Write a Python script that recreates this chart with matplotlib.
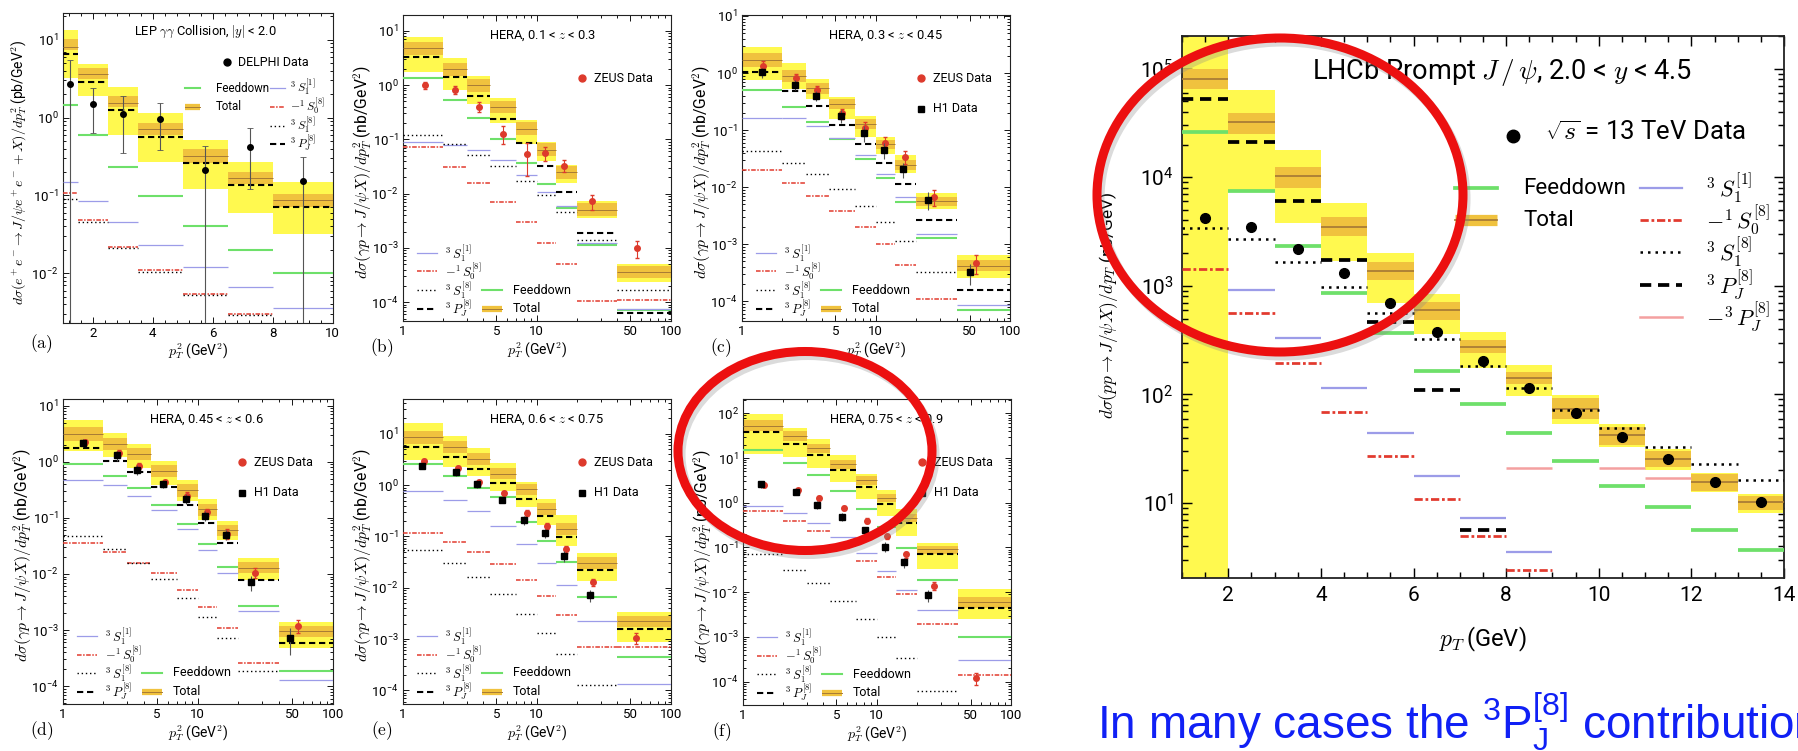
import matplotlib.pyplot as plt
from matplotlib.patches import Ellipse
from matplotlib.lines import Line2D
from matplotlib.ticker import FixedLocator, FuncFormatter, MultipleLocator, LogLocator, NullFormatter
import numpy as np

plt.rcParams['font.family'] = ['Roboto', 'DejaVu Sans']
plt.rcParams['mathtext.fontset'] = 'cm'

W, H = 1798, 751
nan = np.nan

YELLOW = '#FFF94F'
ORANGE = '#F0C23E'
TOTLINE = '#A77B35'
GREEN = '#6EE06A'
BLUE = '#9C9CE8'
RED = '#E23A2E'
PINK = '#F4A0A0'
ZEUS_RED = '#DD3A2C'

# ---------------- (a) LEP gamma-gamma ----------------
a_edges = [1, 1.5, 2.5, 3.5, 5, 6.5, 8, 10]
a_yel_hi = [13.5, 4.8, 2.5, 1.15, 0.52, 0.27, 0.147]
a_yel_lo = [3.2, 1.87, 0.6, 0.265, 0.12, 0.06, 0.032]
a_org_hi = [10.2, 4.35, 1.87, 0.84, 0.39, 0.20, 0.105]
a_org_lo = [7.3, 3.1, 1.37, 0.60, 0.26, 0.142, 0.070]
a_tot = [8.1, 3.6, 1.55, 0.72, 0.32, 0.165, 0.087]
a_pwave = [6.6, 2.9, 1.26, 0.57, 0.26, 0.138, 0.072]
a_feed = [1.47, 0.60, 0.235, 0.097, 0.041, 0.020, 0.0100]
a_s1sing = [0.15, 0.084, 0.045, 0.023, 0.012, 0.0066, 0.0036]
a_s0oct = [0.107, 0.048, 0.022, 0.011, 0.0054, 0.0030, nan]
a_s1oct = [0.091, 0.046, 0.021, 0.0105, 0.0052, 0.0029, nan]
a_data_x = [1.25, 2.0, 3.0, 4.25, 5.75, 7.25, 9.0]
a_data_y = [2.7, 1.5, 1.1, 0.97, 0.21, 0.42, 0.155]
a_data_hi = [5.5, 2.4, 1.87, 1.55, 0.43, 0.74, 0.31]
a_data_lo = [1e-4, 0.64, 0.35, 0.38, 1e-4, 0.122, 1e-4]

# ---------------- HERA panels (b)-(f) ----------------
hera_edges = [1, 2, 3, 4.5, 7, 10, 14, 20, 40, 100]

b_yel_hi = [7.8, 3.1, 1.47, 0.58, 0.225, 0.090, 0.034, 0.0072, 5.1e-4]
b_yel_lo = [1.76, 0.83, 0.44, 0.20, 0.081, 0.040, 0.0158, 0.0035, 2.35e-4]
b_org_hi = [6.3, 2.6, 1.3, 0.52, 0.205, 0.085, 0.032, 0.0066, 4.6e-4]
b_org_lo = [3.6, 1.5, 0.76, 0.30, 0.12, 0.049, 0.019, 0.0039, 2.8e-4]
b_tot = [4.8, 2.0, 1.0, 0.40, 0.158, 0.065, 0.025, 0.0051, 3.6e-4]
b_pwave = [3.3, 1.42, 0.63, 0.24, 0.087, 0.032, 0.0107, 0.00188, 6.3e-5]
b_feed = [1.33, 0.54, 0.25, 0.10, 0.037, 0.0153, 0.0055, 0.00115, 7.3e-5]
b_s1sing = [0.09, 0.078, 0.063, 0.041, 0.022, 0.0107, 0.0058, 0.00122, 7.6e-5]
b_s1oct = [0.12, 0.081, 0.052, 0.032, 0.017, 0.0093, 0.0046, 0.00141, 1.65e-4]
b_s0oct = [0.071, 0.031, 0.016, 0.0070, 0.0030, 0.00125, 5.1e-4, 1.07e-4, 1.11e-4]
b_zeus_x = [1.47, 2.46, 3.7, 5.65, 8.4, 11.6, 16.1, 26, 56]
b_zeus_y = [1.0, 0.83, 0.40, 0.128, 0.053, 0.056, 0.033, 0.0072, 1.0e-3]
b_zeus_err = [0.15, 0.18, 0.2, 0.35, 0.6, 0.3, 0.25, 0.3, 0.35]

c_yel_hi = [2.9, 1.48, 0.79, 0.38, 0.177, 0.076, 0.036, 0.0078, 6.5e-4]
c_yel_lo = [0.75, 0.52, 0.35, 0.155, 0.076, 0.038, 0.0174, 0.0041, 2.6e-4]
c_org_hi = [2.2, 1.15, 0.68, 0.35, 0.155, 0.068, 0.030, 0.0068, 5.2e-4]
c_org_lo = [1.3, 0.70, 0.43, 0.23, 0.105, 0.047, 0.020, 0.0047, 3.4e-4]
c_tot = [1.7, 0.89, 0.54, 0.29, 0.128, 0.057, 0.0245, 0.0057, 4.2e-4]
c_pwave = [1.05, 0.49, 0.26, 0.123, 0.056, 0.026, 0.0113, 0.0026, 1.6e-4]
c_feed = [0.50, 0.25, 0.14, 0.069, 0.031, 0.0142, 0.0055, 0.00126, 7.0e-5]
c_s1sing = [0.16, 0.16, 0.118, 0.072, 0.036, 0.017, 0.0068, 0.0015, 8.5e-5]
c_s1oct = [0.043, 0.026, 0.017, 0.0092, 0.0047, 0.0024, 0.00114, 3.2e-4, nan]
c_s0oct = [0.020, 0.0116, 0.0069, 0.0038, 0.0020, 0.0010, 4.4e-4, 1.1e-4, nan]
c_h1_x = [1.41, 2.5, 3.57, 5.5, 8.1, 11.5, 16, 24.5, 50]
c_h1_y = [1.03, 0.62, 0.40, 0.177, 0.089, 0.045, 0.0205, 0.0060, 3.2e-4]
c_h1_err = [0.2, 0.2, 0.2, 0.25, 0.3, 0.3, 0.3, 0.35, 0.4]
c_zeus_x = [1.45, 2.55, 3.65, 5.6, 8.3, 11.8, 16.4, 27, 56]
c_zeus_y = [1.33, 0.81, 0.50, 0.196, 0.11, 0.060, 0.034, 0.0068, 4.7e-4]
c_zeus_err = [0.2, 0.2, 0.2, 0.2, 0.25, 0.25, 0.25, 0.3, 0.35]

d_yel_hi = [5.5, 3.3, 2.04, 1.03, 0.48, 0.22, 0.089, 0.0195, 0.00139]
d_yel_lo = [1.57, 1.2, 0.79, 0.38, 0.20, 0.091, 0.040, 0.0077, 4.7e-4]
d_org_hi = [4.2, 2.7, 1.75, 0.88, 0.40, 0.18, 0.075, 0.0165, 1.2e-3]
d_org_lo = [2.4, 1.6, 1.06, 0.53, 0.24, 0.11, 0.047, 0.0102, 7.5e-4]
d_tot = [3.2, 2.1, 1.37, 0.69, 0.31, 0.142, 0.060, 0.0130, 9.6e-4]
d_pwave = [1.73, 1.04, 0.66, 0.35, 0.17, 0.081, 0.035, 0.0079, 5.9e-4]
d_feed = [0.91, 0.56, 0.34, 0.17, 0.077, 0.034, 0.0133, 0.0027, 1.87e-4]
d_s1sing = [0.48, 0.38, 0.25, 0.137, 0.063, 0.027, 0.0104, 0.0022, 1.3e-4]
d_s1oct = [0.047, 0.0275, 0.016, 0.0083, 0.0038, 0.0017, 7.3e-4, 1.85e-4, nan]
d_s0oct = [0.035, 0.025, 0.016, 0.0102, 0.0051, 0.0026, 0.0011, 2.6e-4, nan]
d_h1_x = [1.42, 2.52, 3.58, 5.5, 8.15, 11.4, 16.1, 24.7, 48]
d_h1_y = [2.2, 1.3, 0.72, 0.40, 0.22, 0.11, 0.050, 0.0072, 7.2e-4]
d_h1_err = [0.15, 0.2, 0.2, 0.15, 0.2, 0.2, 0.2, 0.3, 0.5]
d_zeus_x = [1.46, 2.6, 3.7, 5.7, 8.4, 11.8, 16.6, 26.5, 55]
d_zeus_y = [2.25, 1.45, 0.85, 0.43, 0.25, 0.125, 0.052, 0.0105, 1.2e-3]
d_zeus_err = [0.1, 0.12, 0.12, 0.12, 0.15, 0.15, 0.2, 0.2, 0.25]

e_yel_hi = [16.5, 9.3, 5.3, 2.7, 1.18, 0.53, 0.26, 0.048, 0.0033]
e_yel_lo = [3.1, 2.3, 1.48, 0.77, 0.38, 0.167, 0.065, 0.0138, 8.9e-4]
e_org_hi = [11.5, 7.2, 4.3, 2.2, 1.05, 0.44, 0.18, 0.039, 0.0028]
e_org_lo = [6.4, 4.2, 2.5, 1.3, 0.64, 0.26, 0.105, 0.023, 0.0017]
e_tot = [8.6, 5.5, 3.3, 1.69, 0.83, 0.34, 0.137, 0.030, 0.0022]
e_pwave = [5.5, 3.5, 2.1, 1.09, 0.53, 0.25, 0.098, 0.0225, 0.0016]
e_feed = [2.6, 1.52, 0.90, 0.60, 0.19, 0.083, 0.032, 0.0066, 4.4e-4]
e_s1sing = [0.77, 0.52, 0.31, 0.16, 0.070, 0.030, 0.0115, 0.0022, 1.35e-4]
e_s0oct = [0.115, 0.079, 0.050, 0.029, 0.0144, 0.0069, 0.0030, 6.9e-4, 7.1e-4]
e_s1oct = [0.054, 0.030, 0.0162, 0.0075, 0.0031, 0.00133, 5.2e-4, 1.26e-4, nan]
e_h1_x = [1.40, 2.5, 3.59, 5.5, 8.1, 11.5, 16, 25, nan]
e_h1_y = [2.4, 1.77, 1.05, 0.52, 0.21, 0.115, 0.042, 0.0071, nan]
e_h1_err = [0.15, 0.15, 0.15, 0.15, 0.2, 0.2, 0.25, 0.25, nan]
e_zeus_x = [1.45, 2.6, 3.7, 5.7, 8.4, 12, 16.6, 26.5, 55]
e_zeus_y = [2.9, 2.15, 1.13, 0.70, 0.29, 0.16, 0.056, 0.0127, 1.07e-3]
e_zeus_err = [0.1, 0.1, 0.1, 0.1, 0.12, 0.12, 0.15, 0.15, 0.25]

f_yel_hi = [97, 47, 26, 11.4, 4.3, 1.9, 0.71, 0.128, 0.012]
f_yel_lo = [12.6, 10.6, 6.0, 2.9, 1.23, 0.50, 0.18, 0.033, 0.0025]
f_org_hi = [70, 40, 21, 9.0, 3.9, 1.6, 0.57, 0.11, 0.0078]
f_org_lo = [40, 24, 13, 5.7, 2.5, 1.02, 0.37, 0.073, 0.0045]
f_tot = [53, 31, 17, 7.2, 3.15, 1.29, 0.46, 0.091, 0.006]
f_pwave = [38, 21, 11.4, 5.4, 2.24, 0.95, 0.345, 0.070, 0.0045]
f_feed = [15.5, 7.8, 4.1, 1.82, 0.71, 0.28, 0.099, 0.0185, 0.001]
f_s1sing = [0.84, 0.58, 0.36, 0.174, 0.074, 0.030, 0.011, 0.0040, 3.0e-4]
f_s0oct = [0.67, 0.39, 0.233, 0.108, 0.050, 0.022, 0.0091, 0.0019, 1.4e-4]
f_s1oct = [0.071, 0.032, 0.016, 0.0064, 0.0025, 9.8e-4, 3.3e-4, 6.3e-5, nan]
f_h1_x = [1.38, 2.5, 3.57, 5.5, 8.1, 11.5, 16, 24, nan]
f_h1_y = [2.56, 1.76, 0.90, 0.48, 0.24, 0.104, 0.047, 0.0085, nan]
f_h1_err = [0.15, 0.15, 0.2, 0.2, 0.2, 0.25, 0.25, 0.3, nan]
f_zeus_x = [1.45, 2.6, 3.7, 5.7, 8.4, 12, 16.6, 26.5, 55]
f_zeus_y = [2.5, 1.88, 1.27, 0.76, 0.40, 0.18, 0.070, 0.014, 1.2e-4]
f_zeus_err = [0.1, 0.1, 0.1, 0.1, 0.12, 0.12, 0.15, 0.2, 0.3]

# ---------------- LHCb prompt J/psi ----------------
r_edges = list(range(1, 15))
r_yel_hi = [1e6, 6.3e4, 1.78e4, 5.8e3, 2.0e3, 850, 375, 187, 98, 53, 31.6, 19, 12]
r_yel_lo = [0.1, 7.3e3, 3.8e3, 1.7e3, 700, 360, 175, 97, 54, 32.5, 20, 12.6, 8.1]
r_org_hi = [1.0e5, 3.9e4, 1.24e4, 4.3e3, 1.66e3, 706, 316, 162, 93, 50, 30, 18.6, 11.5]
r_org_lo = [6.5e4, 2.5e4, 8.0e3, 2.9e3, 1.13e3, 490, 240, 125, 59, 34.5, 21.3, 12.9, 8.7]
r_tot = [8.1e4, 3.2e4, 1.02e4, 3.5e3, 1.38e3, 600, 275, 141, 73, 42.6, 25.7, 15.5, 10.2]
r_pwave = [5.3e4, 2.1e4, 6.0e3, 1.73e3, 465, 110, 5.6, nan, nan, nan, nan, nan, nan]
r_feed = [2.6e4, 7.4e3, 2.33e3, 860, 365, 166, 81, 44.6, 24.5, 14.5, 9.1, 5.6, 3.7]
r_s1oct = [3.4e3, 2.7e3, 1.65e3, 970, 560, 325, 183, 114, 72, 49, 33, 22.8, 16.3]
r_s1sing = [nan, 910, 330, 115, 44, 17.8, 7.3, 3.55, nan, nan, nan, nan, nan]
r_s0oct = [1.42e3, 560, 195, 69, 27, 11, 5.0, 2.4, nan, nan, nan, nan, nan]
r_pneg = [nan, nan, nan, nan, nan, nan, nan, 21, nan, 21, 17, nan, nan]
r_data_x = [1.5, 2.5, 3.5, 4.5, 5.5, 6.5, 7.5, 8.5, 9.5, 10.5, 11.5, 12.5, 13.5]
r_data_y = [4.2e3, 3.5e3, 2.2e3, 1.3e3, 690, 375, 204, 114, 68, 40.5, 25.7, 15.5, 10.2]

S1_1 = r'$^{3}\,S_1^{[1]}$'
S0_8 = r'$-^{1}\,S_0^{[8]}$'
S1_8 = r'$^{3}\,S_1^{[8]}$'
PJ_8 = r'$^{3}\,P_J^{[8]}$'
PJ_neg = r'$-^{3}\,P_J^{[8]}$'

fig = plt.figure(figsize=(W / 100, H / 100), dpi=100)


def fx(x):
    return x / W


def fy(y):
    return 1 - y / H


def new_axes(l, t, r, b):
    return fig.add_axes([fx(l), fy(b), (r - l) / W, (b - t) / H])


def ftext(x, y, s, **kw):
    fig.text(fx(x), fy(y), s, **kw)


def styles(scale):
    return {
        'feed': dict(color=GREEN, lw=1.5 * scale, linestyles='solid'),
        's1sing': dict(color=BLUE, lw=0.9 * scale, linestyles='solid'),
        's0oct': dict(color=RED, lw=1.1 * scale, linestyles=[(0, (3, 1, 1, 1))]),
        's1oct': dict(color='black', lw=1.0 * scale, linestyles=[(0, (1, 2))]),
        'pwave': dict(color='black', lw=1.5 * scale, linestyles=[(0, (3, 1.8))]),
        'pneg': dict(color=PINK, lw=1.0 * scale, linestyles='solid'),
    }


def steps(ax, vals, edges, **kw):
    v = np.array(vals, float)
    e = np.array(edges, float)
    ok = np.isfinite(v)
    ax.hlines(v[ok], e[:-1][ok], e[1:][ok], **kw)


def draw_theory(ax, edges, yel_lo, yel_hi, org_lo, org_hi, tot, pwave, feed,
                s1sing, s0oct, s1oct, pneg=None, scale=1.0):
    e = np.array(edges, float)
    left, width = e[:-1], np.diff(e)
    ax.bar(left, np.array(yel_hi) - np.array(yel_lo), width, bottom=yel_lo,
           align='edge', color=YELLOW, lw=0, zorder=1)
    ax.bar(left, np.array(org_hi) - np.array(org_lo), width, bottom=org_lo,
           align='edge', color=ORANGE, lw=0, zorder=2)
    steps(ax, tot, e, color=TOTLINE, lw=0.7 * scale, zorder=3)
    st = styles(scale)
    steps(ax, feed, e, zorder=4, **st['feed'])
    steps(ax, s1sing, e, zorder=4, **st['s1sing'])
    steps(ax, s0oct, e, zorder=4, **st['s0oct'])
    steps(ax, s1oct, e, zorder=4, **st['s1oct'])
    steps(ax, pwave, e, zorder=4, **st['pwave'])
    if pneg is not None:
        steps(ax, pneg, e, zorder=4, **st['pneg'])


def draw_points(ax, x, y, err, kind):
    x, y, err = np.array(x, float), np.array(y, float), np.array(err, float)
    ok = np.isfinite(y)
    if kind == 'zeus':
        ax.errorbar(x[ok], y[ok], yerr=y[ok] * err[ok], fmt='o', ms=4, color=ZEUS_RED,
                    mec=ZEUS_RED, ecolor=ZEUS_RED, elinewidth=0.8, capsize=1.5, zorder=6)
    else:
        ax.errorbar(x[ok], y[ok], yerr=y[ok] * err[ok], fmt='s', ms=4, color='black',
                    ecolor='#555555', elinewidth=0.8, capsize=0, zorder=7)


def log_label(v, pos):
    return r'$\mathregular{10^{%d}}$' % int(round(np.log10(v)))


def style_axes(ax, ylim, size=9.5, big=False):
    ax.set_yscale('log')
    ax.set_ylim(*ylim)
    ax.yaxis.set_major_locator(LogLocator(base=10, numticks=30))
    ax.yaxis.set_major_formatter(FuncFormatter(log_label))
    ax.yaxis.set_minor_locator(LogLocator(base=10, subs=np.arange(2, 10) * 1.0, numticks=100))
    ax.yaxis.set_minor_formatter(NullFormatter())
    lw = 1.3 if big else 0.8
    ax.tick_params(which='both', direction='in', top=True, right=True, width=lw * 0.8,
                   labelsize=size, pad=3 if not big else 6)
    ax.tick_params(which='major', length=7 if big else 4)
    ax.tick_params(which='minor', length=4 if big else 2)
    for sp in ax.spines.values():
        sp.set_linewidth(lw)
        sp.set_color('#222222')


def style_hera_x(ax):
    ax.set_xscale('log')
    ax.set_xlim(1, 100)
    ax.xaxis.set_major_locator(FixedLocator([1, 5, 10, 50, 100]))
    ax.xaxis.set_major_formatter(FuncFormatter(lambda v, p: f'{v:g}'))
    ax.xaxis.set_minor_locator(FixedLocator([2, 3, 4, 6, 7, 8, 9, 20, 30, 40, 60, 70, 80, 90]))
    ax.xaxis.set_minor_formatter(NullFormatter())


def fig_line(x0, x1, y, **kw):
    fig.add_artist(Line2D([fx(x0), fx(x1)], [fy(y), fy(y)], transform=fig.transFigure, **kw))


def fig_marker(x, y, **kw):
    fig.add_artist(Line2D([fx(x)], [fy(y)], transform=fig.transFigure, ls='none', **kw))


def total_sample(x0, x1, y, scale=1.0):
    fig_line(x0, x1, y, color=ORANGE, lw=4.5 * scale, solid_capstyle='butt')
    fig_line(x0, x1, y, color=TOTLINE, lw=0.7 * scale)


def comp_sample(x0, x1, y, key, scale=1.0):
    st = styles(scale)[key]
    ls = st['linestyles']
    ls = ls[0] if isinstance(ls, list) else ls
    fig_line(x0, x1, y, color=st['color'], lw=st['lw'], linestyle=ls)


def oval(cx, cy, w, h):
    # soft grey shadow first, then the red outline
    fig.add_artist(Ellipse((fx(cx + 3), fy(cy + 4)), w / W, h / H, fill=False, ec='#888888',
                           alpha=0.3, lw=6.5, transform=fig.transFigure, zorder=19))
    fig.add_artist(Ellipse((fx(cx), fy(cy)), w / W, h / H, fill=False, ec='#EC1010',
                           lw=6.5, transform=fig.transFigure, zorder=20))


# pixel boxes (left, top, right, bottom) of the HERA panels
boxes = {
    'b': (402.7, 15, 670.7, 321),
    'c': (741.7, 15, 1010, 321),
    'd': (62.7, 399, 332.7, 704),
    'e': (402.7, 399, 670.7, 704),
    'f': (742.7, 399, 1011, 705),
}
hera_ylims = {
    'b': (4.5e-5, 19.6),
    'c': (4.5e-5, 10.4),
    'd': (4.8e-5, 13.2),
    'e': (5.4e-5, 48),
    'f': (3.0e-5, 209),
}
hera_titles = {
    'b': r'HERA, 0.1 < $z$ < 0.3',
    'c': r'HERA, 0.3 < $z$ < 0.45',
    'd': r'HERA, 0.45 < $z$ < 0.6',
    'e': r'HERA, 0.6 < $z$ < 0.75',
    'f': r'HERA, 0.75 < $z$ < 0.9',
}
hera_theory = {
    'b': (b_yel_lo, b_yel_hi, b_org_lo, b_org_hi, b_tot, b_pwave, b_feed, b_s1sing, b_s0oct, b_s1oct),
    'c': (c_yel_lo, c_yel_hi, c_org_lo, c_org_hi, c_tot, c_pwave, c_feed, c_s1sing, c_s0oct, c_s1oct),
    'd': (d_yel_lo, d_yel_hi, d_org_lo, d_org_hi, d_tot, d_pwave, d_feed, d_s1sing, d_s0oct, d_s1oct),
    'e': (e_yel_lo, e_yel_hi, e_org_lo, e_org_hi, e_tot, e_pwave, e_feed, e_s1sing, e_s0oct, e_s1oct),
    'f': (f_yel_lo, f_yel_hi, f_org_lo, f_org_hi, f_tot, f_pwave, f_feed, f_s1sing, f_s0oct, f_s1oct),
}
hera_zeus = {
    'b': (b_zeus_x, b_zeus_y, b_zeus_err),
    'c': (c_zeus_x, c_zeus_y, c_zeus_err),
    'd': (d_zeus_x, d_zeus_y, d_zeus_err),
    'e': (e_zeus_x, e_zeus_y, e_zeus_err),
    'f': (f_zeus_x, f_zeus_y, f_zeus_err),
}
hera_h1 = {
    'c': (c_h1_x, c_h1_y, c_h1_err),
    'd': (d_h1_x, d_h1_y, d_h1_err),
    'e': (e_h1_x, e_h1_y, e_h1_err),
    'f': (f_h1_x, f_h1_y, f_h1_err),
}

ylab_gp = r'$d\sigma(\gamma p\to J/\psi X)/dp_T^2$ (nb/GeV$^2$)'
xlab_pt2 = r'$p_T^2$ (GeV$^2$)'

# ---- panel (a)
L, T, R, B = 62.7, 13, 332.7, 323
ax = new_axes(L, T, R, B)
draw_theory(ax, a_edges, a_yel_lo, a_yel_hi, a_org_lo, a_org_hi, a_tot, a_pwave,
            a_feed, a_s1sing, a_s0oct, a_s1oct)
ya = np.array(a_data_y)
ax.errorbar(a_data_x, ya, yerr=[ya - np.array(a_data_lo), np.array(a_data_hi) - ya],
            fmt='o', ms=4, color='black', ecolor='#555555', elinewidth=0.8,
            capsize=2, capthick=0.6, zorder=6)
ax.set_xlim(1, 10)
ax.xaxis.set_major_locator(FixedLocator([2, 4, 6, 8, 10]))
ax.xaxis.set_minor_locator(MultipleLocator(0.4))
style_axes(ax, (2.3e-3, 22))
ftext(205, 32, r'LEP $\gamma\gamma$ Collision, $|y|$ < 2.0', fontsize=9.3, ha='center', va='center')
fig_marker(227, 62, marker='o', ms=5, color='black')
ftext(238, 62, 'DELPHI Data', fontsize=9, va='center')
comp_sample(185, 200, 88, 'feed')
ftext(216, 88, 'Feeddown', fontsize=8.3, va='center')
total_sample(185, 200, 107)
ftext(216, 107, 'Total', fontsize=8.3, va='center')
for yy, key, lab in [(88, 's1sing', S1_1), (107, 's0oct', S0_8), (126, 's1oct', S1_8), (144, 'pwave', PJ_8)]:
    comp_sample(270, 285, yy, key)
    ftext(290, yy, lab, fontsize=8.5, va='center')
ftext((L + R) / 2, B + 28, xlab_pt2, fontsize=10, ha='center', va='center')
ftext(L - 43, (T + B) / 2 + 4, r'$d\sigma(e^+e^-\!\to J/\psi e^+e^-+X)/dp_T^2$ (pb/GeV$^2$)',
      fontsize=10, rotation=90, ha='center', va='center')
ftext(L - 21, B + 21, r'$\mathrm{(a)}$', fontsize=12.5, ha='center', va='center')

# ---- HERA panels
for key in ['b', 'c', 'd', 'e', 'f']:
    L, T, R, B = boxes[key]
    ax = new_axes(L, T, R, B)
    draw_theory(ax, hera_edges, *hera_theory[key])
    draw_points(ax, *hera_zeus[key], 'zeus')
    if key in hera_h1:
        draw_points(ax, *hera_h1[key], 'h1')
    style_hera_x(ax)
    style_axes(ax, hera_ylims[key])

    ftext(L + 86, T + 21, hera_titles[key], fontsize=9.3, va='center')
    fig_marker(L + 179, T + 63, marker='o', ms=5, color=ZEUS_RED)
    ftext(L + 191, T + 63, 'ZEUS Data', fontsize=9, va='center')
    if key in hera_h1:
        fig_marker(L + 179, T + 94, marker='s', ms=5, color='black')
        ftext(L + 191, T + 94, 'H1 Data', fontsize=9, va='center')

    rows = [B - 68, B - 49.5, B - 31, B - 12.5]
    for yy, k, lab in zip(rows, ['s1sing', 's0oct', 's1oct', 'pwave'], [S1_1, S0_8, S1_8, PJ_8]):
        comp_sample(L + 14, L + 34, yy, k)
        ftext(L + 42, yy, lab, fontsize=9, va='center')
    comp_sample(L + 79, L + 99, rows[2], 'feed')
    ftext(L + 110, rows[2], 'Feeddown', fontsize=9, va='center')
    total_sample(L + 79, L + 99, rows[3])
    ftext(L + 110, rows[3], 'Total', fontsize=9, va='center')

    ftext((L + R) / 2, B + 29, xlab_pt2, fontsize=10, ha='center', va='center')
    ftext(L - 40, (T + B) / 2 + 4, ylab_gp, fontsize=11.3, rotation=90, ha='center', va='center')
    ftext(L - 21, B + 27, r'$\mathrm{(%s)}$' % key, fontsize=12.5, ha='center', va='center')

# ---- LHCb panel
L, T, R, B = 1182, 36, 1784, 578
ax = new_axes(L, T, R, B)
draw_theory(ax, r_edges, r_yel_lo, r_yel_hi, r_org_lo, r_org_hi, r_tot, r_pwave,
            r_feed, r_s1sing, r_s0oct, r_s1oct, pneg=r_pneg, scale=1.8)
ax.plot(r_data_x, r_data_y, 'o', ms=7, color='black', zorder=7)
ax.set_xlim(1, 14)
ax.xaxis.set_major_locator(FixedLocator([2, 4, 6, 8, 10, 12, 14]))
ax.xaxis.set_minor_locator(MultipleLocator(0.5))
style_axes(ax, (2.04, 2.0e5), size=15, big=True)

ftext(1312, 72, r'LHCb Prompt $J\,/\,\psi$, 2.0 < $y$ < 4.5', fontsize=19.5, va='center')
fig_marker(1513, 136, marker='o', ms=9, color='black')
ftext(1545, 133, r'$\sqrt{s}$ = 13 TeV Data', fontsize=18.5, va='center')
comp_sample(1455, 1497, 188, 'feed', scale=1.8)
ftext(1523, 188, 'Feeddown', fontsize=16, va='center')
total_sample(1455, 1497, 220, scale=1.8)
ftext(1523, 220, 'Total', fontsize=16, va='center')
for yy, k, lab in [(188, 's1sing', S1_1), (220, 's0oct', S0_8), (252, 's1oct', S1_8),
                   (285, 'pwave', PJ_8), (317, 'pneg', PJ_neg)]:
    comp_sample(1640, 1682, yy, k, scale=1.8)
    ftext(1706, yy, lab, fontsize=16, va='center')
ftext(1483, 639, r'$p_T\,$(GeV)', fontsize=17, ha='center', va='center')
ftext(1108, 305, r'$d\sigma(pp\to J/\psi X)/dp_T$ (nb/GeV)', fontsize=12.5,
      rotation=90, ha='center', va='center')

# red ovals drawn over the panels
oval(805, 451, 254, 199)
oval(1280, 195, 366, 314)

ftext(1097, 722, r'In many cases the $\mathregular{^{3}P_{J}^{[8]}}$ contribution is negative',
      fontsize=33, color='#1020F5', va='center', family=['Liberation Sans', 'DejaVu Sans'])

fig.savefig('out.png', dpi=100)
